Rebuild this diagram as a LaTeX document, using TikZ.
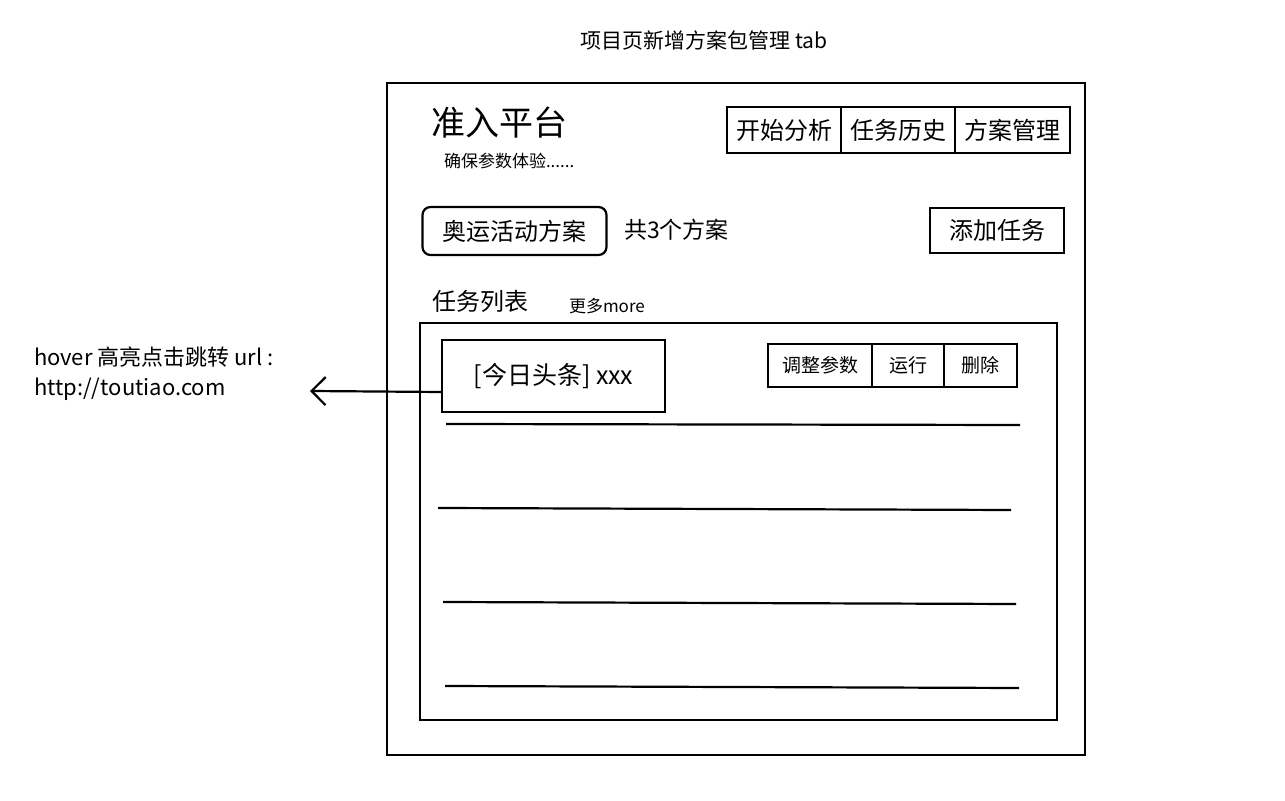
\documentclass[tikz,border=0pt]{standalone}
\usepackage{fontspec}
\setmainfont{Noto Sans CJK SC}
\usetikzlibrary{arrows.meta}
\begin{document}
\begin{tikzpicture}[x=0.5pt,y=-0.5pt,line width=1pt,
  box/.style={draw,line width=1.1pt},
  lbl/.style={anchor=west,inner sep=0pt,font=\fontsize{9}{11}\selectfont},
  sline/.style={line width=1.1pt}]
\useasboundingbox (0,0) rectangle (1285,801);
\node[font=\fontsize{10.5}{12}\selectfont] (title) at (704,40) {项目页新增方案包管理 tab};
\draw[box] (387,83) rectangle (1085,755);
\node[lbl,font=\fontsize{17}{19}\selectfont] (plat) at (430,123) {准入平台};
\node[lbl,font=\fontsize{8.5}{10}\selectfont] (sub) at (443,161) {确保参数体验......};
\node[box,minimum width=57pt,minimum height=23pt,inner sep=0pt,font=\fontsize{12}{14}\selectfont] (b1) at (784,130) {开始分析};
\node[box,minimum width=57pt,minimum height=23pt,inner sep=0pt,font=\fontsize{12}{14}\selectfont] (b2) at (898,130) {任务历史};
\node[box,minimum width=57.5pt,minimum height=23pt,inner sep=0pt,font=\fontsize{12}{14}\selectfont] (b3) at (1012.5,130) {方案管理};
\node[box,rounded corners=4pt,minimum width=92pt,minimum height=24pt,inner sep=0pt,font=\fontsize{12}{14}\selectfont] (plan) at (514.5,231) {奥运活动方案};
\node[lbl,font=\fontsize{11.5}{13}\selectfont] (cnt) at (623,230) {共3个方案};
\node[box,minimum width=67pt,minimum height=22.5pt,inner sep=0pt,font=\fontsize{12}{14}\selectfont] (add) at (997,230.5) {添加任务};
\node[lbl,font=\fontsize{12}{14}\selectfont] (tl) at (431,301) {任务列表};
\node[lbl,font=\fontsize{8.5}{10}\selectfont] (more) at (568,306) {更多more};
\draw[box] (420,323) rectangle (1057,720);
\node[box,minimum width=111.5pt,minimum height=36pt,inner sep=0pt,font=\fontsize{12.5}{14}\selectfont] (item) at (553.5,376) {[今日头条] xxx};
\node[box,minimum width=52pt,minimum height=21.5pt,inner sep=0pt,font=\fontsize{9.5}{11}\selectfont] (c1) at (820,365.5) {调整参数};
\node[box,minimum width=36pt,minimum height=21.5pt,inner sep=0pt,font=\fontsize{9.5}{11}\selectfont] (c2) at (908,365.5) {运行};
\node[box,minimum width=36.5pt,minimum height=21.5pt,inner sep=0pt,font=\fontsize{9.5}{11}\selectfont] (c3) at (980.5,365.5) {删除};
\draw[sline] (446,424) -- (1020,425);
\draw[sline] (438,508) -- (1011,510);
\draw[sline] (443,602) -- (1016,604);
\draw[sline] (445,686) -- (1019,688);
\node[lbl,font=\fontsize{11}{13}\selectfont] (h1) at (33,357) {hover 高亮点击跳转 url :};
\node[lbl,font=\fontsize{11}{13}\selectfont] (h2) at (33,389) {http://toutiao.com};
\coordinate (tip) at (310,391);
\draw[-{Straight Barb[length=7pt,width=14pt]},line width=1.1pt] (item.west|-0,392) -- (tip);
\end{tikzpicture}
\end{document}
